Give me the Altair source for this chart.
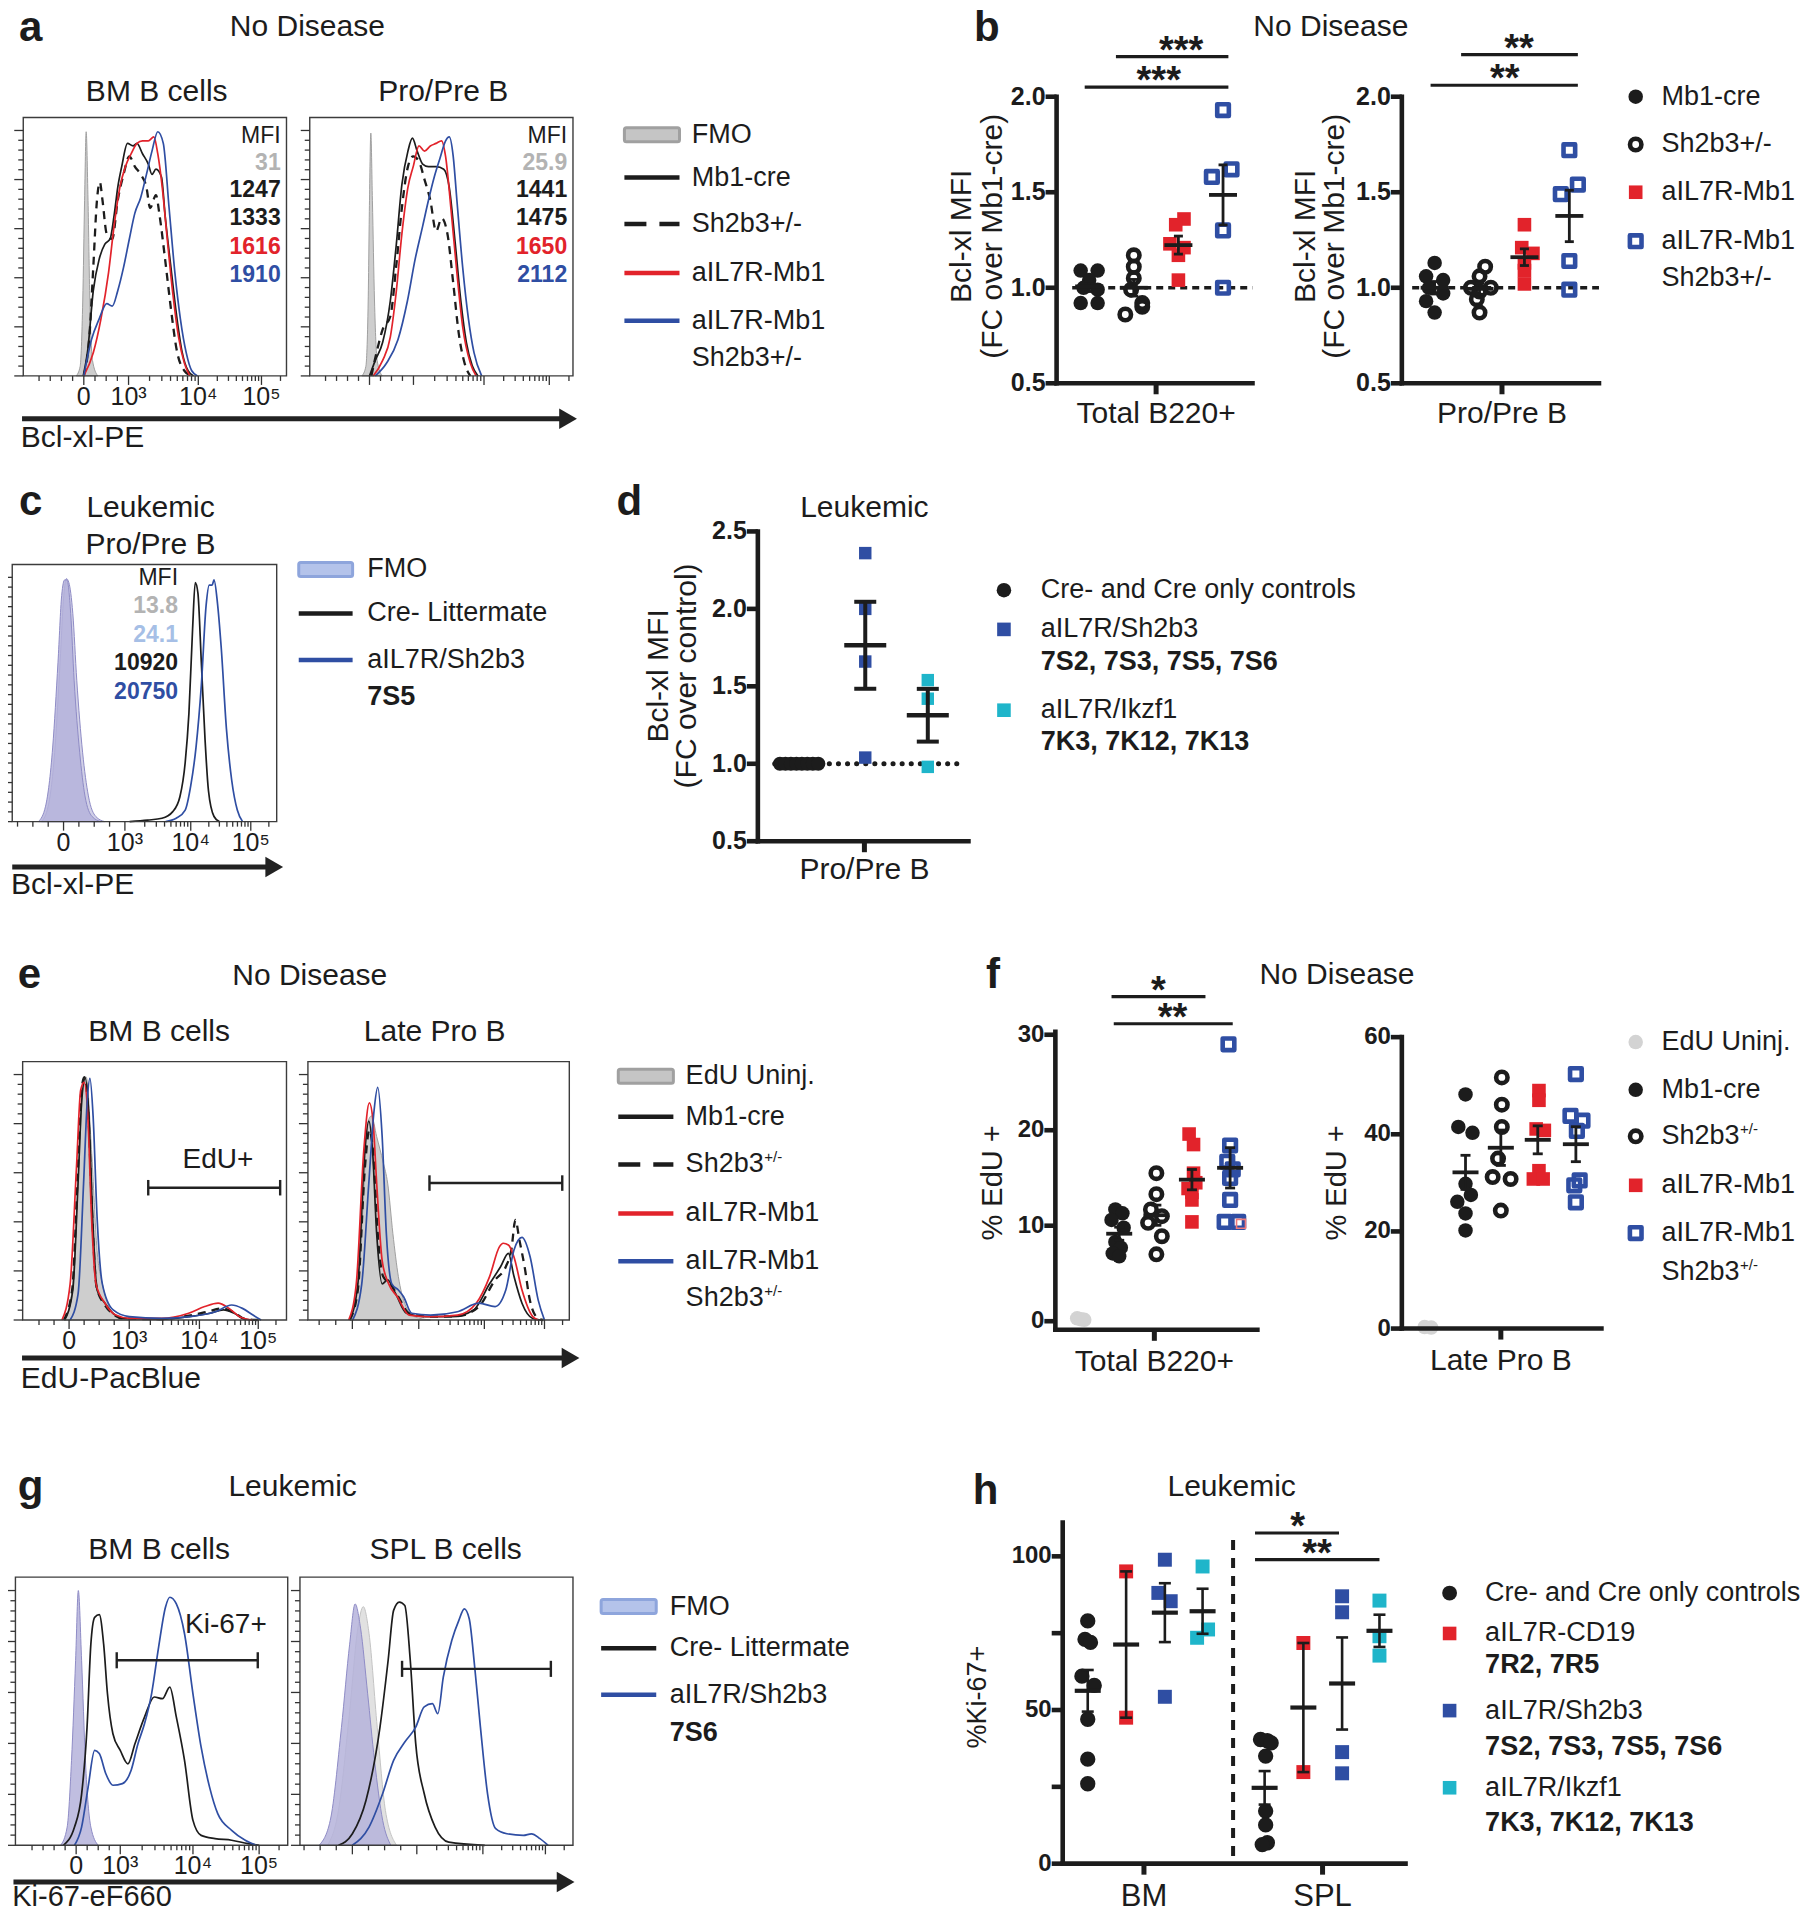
import math
import altair as alt
import numpy as np
import pandas as pd

# ============================ DATA ============================
# Flow histograms: (x, y) pairs, x and y in percent of the plot frame
A1_FMO = [(20.1,0),(21.6,3.6),(22.6,29),(23.3,68),(23.9,94.5),(24.6,68),(25.3,29),(26.3,6),(28.3,0)]
A1_MB1 = [(22.8,0),(24.5,10),(26.6,33),(28.8,45),(31.0,51),(33.0,53),(34.5,62),(35.9,73),(37.4,81),(39.6,90),(41.7,89),(43.2,90),(45.3,86),(47.5,82),(48.9,78),(50.4,80),(52.5,77),(53.9,62),(56.1,42),(58.3,23),(60.4,9),(62.6,2),(64.7,0)]
A1_SH2 = [(23.0,0),(25.2,16.5),(26.6,42),(28.0,68),(29.1,75),(30.1,68),(31.7,55),(33.8,53),(35.9,68),(38.1,78),(40.3,85),(42.4,81),(44.6,78),(46.8,73),(48.2,65),(50.4,70),(51.8,62),(53.9,45),(56.1,26),(58.3,10),(61.2,2),(64.0,0)]
A1_IL7 = [(23.0,0),(26.6,9),(29.5,22),(32.4,40),(34.5,58),(36.7,73),(38.8,81),(41.0,86),(43.2,90),(45.3,91),(47.5,91),(49.6,92.5),(51.1,86),(52.8,73),(54.7,53),(56.8,32),(59.0,15),(61.2,5),(63.3,0)]
A1_BOTH = [(23.0,0),(25.9,14),(28.8,22),(31.7,28),(33.8,27),(35.9,33),(38.1,42),(40.3,53),(42.4,63),(44.6,69),(46.8,78),(48.9,87),(51.1,94.5),(53.2,90),(55.4,65),(57.6,40),(59.7,22),(61.9,9),(64.0,2),(66.2,0)]

A2_FMO = [(19.8,0),(21.3,3.6),(22.2,29),(22.7,68),(23.2,94),(23.8,68),(24.6,29),(25.6,6),(27.5,0)]
A2_MB1 = [(22.7,0),(24.9,6),(27.7,13),(30.6,29),(32.8,50),(35.0,74),(37.3,87),(39.0,92),(40.8,87),(42.9,82),(45.1,81),(48.0,81),(50.9,80),(53.0,73),(55.2,52),(57.4,29),(59.5,13),(61.7,4),(63.9,0)]
A2_SH2 = [(23.4,0),(25.6,10),(27.7,18),(30.6,23),(32.8,42),(35.0,65),(37.3,81),(39.3,85),(41.5,83),(43.6,76),(45.8,68),(48.0,56),(50.1,61),(52.3,55),(54.5,36),(56.6,16.5),(58.8,5),(61.0,0)]
A2_IL7 = [(24.1,0),(27.7,6),(30.6,15),(32.8,32),(35.0,55),(37.3,73),(39.3,81),(41.5,89),(43.6,87),(45.8,89),(48.0,90),(50.1,91),(51.6,85),(53.8,63),(55.9,40),(58.1,19),(61.0,5),(63.2,0)]
A2_BOTH = [(24.9,0),(29.2,5),(33.5,14),(37.1,29),(40.0,45),(42.9,58),(45.1,68),(47.3,77),(49.4,84),(51.6,91),(53.0,92.5),(54.5,85),(55.9,68),(58.1,42),(60.3,22),(62.4,9),(65.3,0)]

C_FMO_A = [(9.9,0),(12.6,6),(15.3,29),(17.3,62),(18.7,88),(19.8,94),(20.7,94),(22.1,81),(23.4,55),(25.5,27),(27.5,10),(30.2,2),(33.6,0)]
C_FMO_B = [(11.0,0),(13.6,6),(16.2,29),(18.1,62),(19.5,88),(20.5,94.5),(21.4,93),(22.9,81),(24.4,55),(26.6,27),(28.8,10),(31.6,2),(35.0,0)]
C_CRE = [(44.4,0),(51.2,0.6),(56.6,1.3),(60.7,3.9),(63.4,9.7),(65.4,23),(66.8,42),(68.2,75),(69.2,93),(70.2,89),(71.5,62),(72.9,32),(74.2,12),(76.3,2),(78.3,0)]
C_7S5 = [(58.0,0),(62.0,1.3),(65.4,4.5),(67.5,14),(69.5,29),(71.5,53),(73.3,84),(74.5,92),(75.6,92),(76.3,94),(77.6,85),(79.0,68),(81.0,36),(83.0,16),(85.1,4.5),(87.1,0)]

E1_UNINJ = [(15.9,0),(19.0,14),(21.0,53),(23.1,92),(24.1,94),(26.1,66),(28.2,27),(30.2,14),(32.2,6.5),(35.3,1.3),(40.4,0)]
E1_MB1 = [(15.9,0),(19.0,11.6),(21.0,53),(22.4,85),(23.7,93.5),(25.1,79),(26.5,40),(28.2,11.6),(31.2,6.5),(34.3,2.6),(38.4,0.6),(52.7,0.3),(62.9,1.3),(71.0,2.6),(76.1,3.9),(80.2,2.6),(84.3,0.3),(89.4,0)]
E1_SH2 = [(15.6,0),(18.8,12),(20.8,55),(22.2,88),(23.4,94),(24.9,80),(26.3,42),(28.0,13),(31.0,6),(34.0,2.5),(38.0,0.6),(52.0,0.3),(62.0,1.5),(70.0,3.2),(75.5,4.5),(80.0,3),(84.0,0.5),(89.0,0)]
E1_IL7 = [(14.9,0),(18.0,14),(20.4,59),(22.0,89),(23.3,92),(24.7,79),(26.1,40),(27.8,14),(31.2,6.5),(35.3,1.9),(40.4,0.6),(52.7,0.6),(62.9,2.6),(69.0,5.2),(74.1,6.5),(78.2,4.5),(82.2,1.3),(87.3,0)]
E1_BOTH = [(18.0,0),(21.0,10),(23.1,53),(24.5,85),(25.5,93.5),(26.7,79),(28.2,40),(30.2,14),(34.3,3.9),(40.4,1.3),(52.7,0.6),(64.9,1.5),(73.1,3.2),(79.2,5.8),(83.3,4.5),(87.3,1.9),(90.4,0)]

E2_UNINJ = [(16.0,0),(19.1,14),(21.2,46),(22.8,76),(24.3,79),(26.3,71),(28.8,61),(30.5,53),(32.5,33.5),(34.6,16.8),(37.0,6.5),(40.7,1.3),(46.9,0)]
E2_MB1 = [(16.0,0),(19.1,14),(21.8,66),(23.3,77),(24.7,66),(26.3,33.5),(28.4,14),(30.5,15.5),(33.5,10.3),(37.7,2.6),(44.9,1.3),(55.1,1.3),(63.4,3.9),(69.5,14),(73.7,20.6),(76.7,25.8),(78.8,17),(81.9,6.5),(86.0,0.6),(89.1,0)]
E2_SH2 = [(16.0,0),(19.1,11.6),(21.8,59),(23.5,73.5),(25.1,63),(26.7,33.5),(28.8,16.8),(31.5,14),(34.6,9),(38.7,2.6),(46.9,1.3),(57.2,1.5),(65.4,5.2),(71.6,15.5),(75.7,20.6),(77.8,27),(79.4,38.7),(80.9,31),(82.9,20.6),(84.9,7.7),(88.1,0.6),(90.1,0)]
E2_IL7 = [(15.6,0),(18.5,14),(21.4,66),(23.5,84),(24.9,77),(26.3,53),(28.4,23),(30.9,14),(34.2,9),(38.7,1.9),(46.9,1.3),(57.2,1.9),(64.4,6.5),(69.5,16.8),(73.3,28.4),(74.7,29.7),(76.7,29),(78.8,24.5),(81.9,11.6),(86.0,1.3),(88.1,0)]
E2_BOTH = [(17.1,0),(20.6,14),(23.3,53),(25.3,81),(26.7,90),(28.4,71),(30.0,33.5),(32.1,14),(34.6,11.6),(36.6,9),(39.7,2.6),(46.9,1.9),(57.2,3.2),(65.4,6.5),(71.6,5.2),(75.7,11.6),(78.8,27),(81.9,32),(85.0,24.5),(88.1,7.7),(90.5,0)]

G1_FMO = [(16.6,0),(19.0,6.8),(20.6,31.7),(22.1,69),(23.1,95),(24.3,69),(25.7,31.7),(27.7,6.8),(30.4,0)]
G1_CRE = [(17.6,0),(21.7,6.8),(24.3,19),(26.3,44),(27.7,75),(29.1,85),(30.8,86),(32.4,75),(33.8,56.5),(35.8,41.6),(38.5,35.4),(41.3,30.4),(43.9,37.9),(47.4,47.8),(51.0,55.3),(54.0,54.7),(56.7,59),(59.1,47.8),(62.1,31.7),(65.2,9.3),(68.2,3.7),(73.3,2.5),(79.4,1.9),(85.4,0.6),(89.5,0)]
G1_7S6 = [(21.7,0),(24.3,6.8),(26.7,21.7),(29.1,35.4),(30.8,34.2),(33.2,26.7),(35.8,22.4),(39.3,23),(42.5,28),(45.0,37.9),(47.4,45.3),(50.0,56.5),(52.6,74),(55.1,88.8),(56.7,92.5),(59.1,90),(62.1,78.9),(65.2,56.5),(68.2,36.6),(71.3,21.7),(74.3,11.8),(79.4,5.6),(84.4,1.9),(88.5,0)]

G2_FMO_A = [(7.0,0),(11.1,9.3),(15.2,44),(18.2,75),(20.2,90),(22.2,81),(24.8,56.5),(27.3,31.7),(30.3,9.3),(33.3,0)]
G2_FMO_B = [(10.1,0),(14.1,13),(18.2,50),(21.2,81),(23.2,89),(25.3,79),(28.3,44),(31.3,13),(35.4,0)]
G2_CRE = [(14.1,0),(19.2,4.3),(24.2,16.8),(29.3,44),(32.3,69),(34.3,87.6),(36.4,90.7),(38.4,89.4),(40.4,69),(42.4,37.9),(45.5,19.3),(49.5,6.8),(54.5,1.2),(67.7,0)]
G2_7S6 = [(19.2,0),(25.3,6.8),(30.3,19.3),(34.3,31.7),(38.4,38.5),(42.4,44.1),(45.5,51.6),(48.5,52.8),(50.5,49.1),(52.5,62.7),(55.6,76.4),(58.2,83.9),(60.2,88.2),(62.0,84.5),(64.0,66.5),(66.1,44.1),(68.7,19.3),(71.7,6.2),(75.8,4.3),(81.8,3.7),(84.8,4.3),(87.9,2.5),(90.9,0)]

MFI_A1 = ["MFI", "31", "1247", "1333", "1616", "1910"]
MFI_A2 = ["MFI", "25.9", "1441", "1475", "1650", "2112"]
MFI_C = ["MFI", "13.8", "24.1", "10920", "20750"]
FLOW_TICK_LABELS = ["0", "10³", "10⁴", "10⁵"]

# Panel b: Bcl-xl MFI (FC over Mb1-cre); values and horizontal scatter offsets
B1_VALUES = {"mb1": [1.09, 1.09, 1.04, 1.00, 0.99, 0.92, 0.92],
             "sh2": [1.17, 1.11, 1.05, 0.99, 0.92, 0.86, 0.90],
             "il7": [1.36, 1.33, 1.23, 1.21, 1.17, 1.04],
             "both": [1.93, 1.62, 1.58, 1.30, 1.00]}
B1_JITTER = {"mb1": [-0.19, 0.19, 0, -0.125, 0.19, -0.19, 0.19],
             "sh2": [0, 0, 0, -0.06, 0.19, -0.19, 0.19],
             "il7": [0.125, -0.06, -0.19, 0.125, 0, 0],
             "both": [0, 0.19, -0.25, 0, 0]}
B2_VALUES = {"mb1": [1.13, 1.06, 1.04, 1.00, 0.97, 0.93, 0.87],
             "sh2": [1.11, 1.06, 1.00, 1.00, 0.98, 0.94, 0.87],
             "il7": [1.33, 1.21, 1.18, 1.13, 1.09, 1.02],
             "both": [1.72, 1.54, 1.49, 1.14, 0.99]}
B2_JITTER = {"mb1": [0, -0.19, 0.19, -0.125, 0.19, -0.19, 0],
             "sh2": [0.125, 0, -0.19, 0.25, 0, -0.06, 0],
             "il7": [0, -0.06, 0.19, 0, 0, 0],
             "both": [0, 0.19, -0.19, 0, 0]}
B_TICKS = [0.5, 1.0, 1.5, 2.0]
B_TICK_LABELS = ["0.5", "1.0", "1.5", "2.0"]

# Panel d
D_CTRL = [1.0, 1.0, 1.0, 1.0, 1.0, 1.0, 1.0, 1.0]
D_CTRL_X = [0.105, 0.131, 0.157, 0.183, 0.209, 0.235, 0.261, 0.287]
D_SH2B3 = [2.36, 2.00, 1.66, 1.04]
D_IKZF1 = [1.54, 1.42, 0.98]
D_TICKS = [0.5, 1.0, 1.5, 2.0, 2.5]
D_TICK_LABELS = ["0.5", "1.0", "1.5", "2.0", "2.5"]

# Panel f (% EdU+), x positions as fraction of the axis
F1_UNINJ = [0.3, 0.15, 0.2]
F1_UNINJ_X = [0.108, 0.143, 0.127]
F1_MB1 = [11.7, 11.3, 10.6, 9.8, 8.3, 7.7, 7.1, 6.8]
F1_MB1_X = [0.297, 0.332, 0.278, 0.338, 0.297, 0.324, 0.284, 0.316]
F1_SH2 = [15.5, 13.3, 11.7, 11.0, 10.3, 8.9, 7.0]
F1_SH2_X = [0.5, 0.5, 0.473, 0.527, 0.459, 0.527, 0.5]
F1_IL7 = [19.6, 18.5, 15.5, 14.5, 13.9, 13.5, 12.7, 10.4]
F1_IL7_X = [0.662, 0.684, 0.684, 0.695, 0.657, 0.676, 0.676, 0.676]
F1_BOTH = [29.0, 18.4, 16.7, 15.9, 15.0, 12.7, 10.4, 10.4]
F1_BOTH_X = [0.857, 0.865, 0.851, 0.878, 0.865, 0.865, 0.838, 0.905]
F1_STRAY = [10.2]
F1_STRAY_X = [0.919]
F1_TICKS = [0, 10, 20, 30]

F2_UNINJ = [0.3, 0.2]
F2_UNINJ_X = [0.114, 0.147]
F2_MB1 = [48.2, 41.5, 40.3, 29.8, 27.5, 26.1, 23.7, 20.2]
F2_MB1_X = [0.319, 0.283, 0.354, 0.319, 0.346, 0.278, 0.319, 0.319]
F2_SH2 = [51.7, 46.1, 41.5, 35.0, 31.2, 30.8, 24.3]
F2_SH2_X = [0.501, 0.501, 0.501, 0.482, 0.455, 0.545, 0.496]
F2_IL7 = [49.0, 47.0, 41.1, 40.8, 32.5, 30.8, 30.8]
F2_IL7_X = [0.687, 0.687, 0.673, 0.714, 0.687, 0.659, 0.708]
F2_BOTH = [52.4, 43.8, 42.8, 40.7, 30.5, 29.5, 26.0]
F2_BOTH_X = [0.872, 0.845, 0.905, 0.877, 0.891, 0.864, 0.872]
F2_TICKS = [0, 20, 40, 60]

# Panel h (% Ki-67+)
H_BM_CTRL = [79, 73, 72, 61, 58, 47, 34, 26]
H_BM_CTRL_X = [0.073, 0.065, 0.081, 0.056, 0.092, 0.073, 0.073, 0.073]
H_BM_CD19 = [95.1, 47.5]
H_BM_SH2 = [98.9, 88.1, 85.4, 54.3]
H_BM_SH2_X = [0.298, 0.279, 0.315, 0.298]
H_BM_IKZF = [96.7, 76.2, 73.5]
H_BM_IKZF_X = [0.408, 0.424, 0.392]
H_SPL_CTRL = [40.4, 40.0, 39.3, 35.0, 17.1, 12.6, 6.8, 6.2]
H_SPL_CTRL_X = [0.577, 0.597, 0.608, 0.592, 0.592, 0.592, 0.597, 0.582]
H_SPL_CD19 = [71.8, 29.8]
H_SPL_SH2 = [87.0, 81.8, 36.3, 29.4]
H_SPL_IKZF = [85.6, 74.0, 67.7]
H_TICKS = [0, 25, 50, 75, 100]
H_TICK_LABELS = ["0", "", "50", "", "100"]

# ============================ STYLE / LAYOUT ============================
W, H = 1796, 1904
KX, KY = 1812 / 1480, 1920 / 1568
FONT = "Liberation Sans"
BLACK = "#1c1c1c"
RED = "#e2232b"
BLUE = "#2f4ea3"
CYAN = "#1fb5ca"
GREY_FILL = "#c5c5c5"
GREY_EDGE = "#a0a0a0"
LAV_FILL = "#b5b3da"
LAV_FILL2 = "#c9c8e3"
LAV_EDGE = "#8f8cc6"
LGREY = "#d3d3d3"
MFI_GREY = "#b3b3b3"
MFI_LBLUE = "#a6bfe6"
ONE = pd.DataFrame({"k": [0]})

# marker styles: (kind, colour, size)
S_FC = ("fcircle", BLACK, 210)
S_OC = ("ocircle", BLACK, 130)
S_FS = ("fsquare", RED, 185)
S_OS = ("osquare", BLUE, 135)


def X(v):
    return round(v * KX - 8, 2)


def Y(v):
    return round(v * KY - 8, 2)


def txt(s, x, y, size, weight="normal", align="center", angle=0, color=BLACK, baseline="middle"):
    props = dict(text=s, font=FONT, fontSize=size, fontWeight=weight, align=align,
                 baseline=baseline, color=color)
    if angle:
        props["angle"] = angle
    return alt.Chart(ONE).mark_text(**props).encode(x=alt.value(X(x)), y=alt.value(Y(y)))


EM = {"S": .667, "h": .556, "2": .556, "b": .556, "3": .556}


def label_parts(label, xt, y, bold=False, sup=False, size=27):
    out = [txt(label, xt, y, size, weight="bold" if bold else "normal", align="left")]
    if sup:
        w = sum(EM.get(ch, .556) for ch in label) * size / KX
        out.append(txt("+/-", xt + w + 0.5, y - 6, 15, align="left"))
    return out


def arrow(x0, x1, y):
    return [
        alt.Chart(ONE).mark_rule(color="#222222", strokeWidth=5).encode(
            x=alt.value(X(x0)), x2=alt.value(X(x1 - 8)), y=alt.value(Y(y))),
        alt.Chart(ONE).mark_point(shape="triangle-right", filled=True, size=420, color="#222222",
                                  opacity=1).encode(x=alt.value(X(x1 - 6)), y=alt.value(Y(y))),
    ]


def x_ticks(m):
    m0, m3, m4, m5 = m
    st = (m3 - m0) / 4.0
    vals = [m0 + j * st for j in range(-4, 4)]
    for a, b in ((m3, m4), (m4, m5)):
        vals += [a + (b - a) * math.log10(k) for k in range(1, 10)]
    vals += [m5 + (m5 - m4) * math.log10(k) for k in range(1, 10)]
    return sorted({round(v, 2) for v in vals if 1 <= v <= 99})


Y_TICKS = [round(i * 3.8, 2) for i in range(26)]
Y_MAJOR = [0, 19, 38, 57, 76, 95]


def pts_df(pts):
    return pd.DataFrame(pts, columns=["x", "y"])


def marker_props(kind, color, size):
    shape = "circle" if kind.endswith("circle") else "square"
    props = dict(shape=shape, size=size, opacity=1)
    if kind.startswith("f"):
        props.update(filled=True, color=color)
    elif kind.startswith("t"):
        props.update(filled=False, color=color, strokeWidth=1.6)
    else:
        props.update(filled=False, color=color, strokeWidth=4.6, strokeJoin="round")
    return props


def hist_panel(box, majors, labels, fills=(), dashed=(), solid=(), mfi=None, gate=None):
    l, r, t, b = box
    xs = alt.Scale(domain=[0, 100], range=[X(l), X(r)], nice=False, zero=False)
    ys = alt.Scale(domain=[0, 100], range=[Y(b), Y(t)], nice=False, zero=False)
    xq = alt.X("x:Q", scale=xs, axis=None)
    yq = alt.Y("y:Q", scale=ys, axis=None, stack=None)
    ls = []
    for pts, fc, ec in fills:
        ls.append(alt.Chart(pts_df(pts)).mark_area(interpolate="monotone", fill=fc, fillOpacity=0.85,
                                                   stroke=ec, strokeWidth=1).encode(x=xq, y=yq))
    for pts, c in dashed:
        ls.append(alt.Chart(pts_df(pts)).mark_line(interpolate="monotone", color=c, strokeWidth=2.3,
                                                   strokeDash=[8, 6]).encode(x=xq, y=yq))
    for pts, c in solid:
        ls.append(alt.Chart(pts_df(pts)).mark_line(interpolate="monotone", color=c,
                                                   strokeWidth=1.7).encode(x=xq, y=yq))
    fr = pd.DataFrame({"x0": [0], "x1": [100], "y0": [0], "y1": [100]})
    ls.append(alt.Chart(fr).mark_rect(fill="transparent", stroke="#3c3c3c", strokeWidth=1.4).encode(
        x=alt.X("x0:Q", scale=xs, axis=None), x2="x1:Q",
        y=alt.Y("y0:Q", scale=ys, axis=None), y2="y1:Q"))
    majl = list(majors)
    minor = [v for v in x_ticks(majors) if v not in majl]
    for vals, sz in ((minor, 5), (majl, 9)):
        d = pd.DataFrame({"x": vals})
        d["y"] = 0.0
        ls.append(alt.Chart(d).mark_tick(orient="vertical", size=sz, thickness=1.3, yOffset=sz / 2,
                                         color="#333333", opacity=1).encode(x=xq, y=yq))
    for vals, sz in (([v for v in Y_TICKS if v not in Y_MAJOR], 5), (Y_MAJOR, 9)):
        d = pd.DataFrame({"y": vals})
        d["x"] = 0.0
        ls.append(alt.Chart(d).mark_tick(orient="horizontal", size=sz, thickness=1.3, xOffset=-sz / 2,
                                         color="#333333", opacity=1).encode(x=xq, y=yq))
    if labels:
        d = pd.DataFrame({"x": majl, "t": FLOW_TICK_LABELS})
        d["y"] = 0.0
        ls.append(alt.Chart(d).mark_text(font=FONT, fontSize=25, color=BLACK, baseline="middle", dy=21).encode(
            x=xq, y=yq, text="t:N"))
    if mfi:
        xpos, texts, yv, cols = mfi
        d = pd.DataFrame({"y": yv, "t": texts, "c": cols})
        d["x"] = xpos
        for part, wt in ((d.iloc[:1], "normal"), (d.iloc[1:], "bold")):
            ls.append(alt.Chart(part).mark_text(align="right", baseline="middle", font=FONT, fontSize=23,
                                                fontWeight=wt).encode(
                x=xq, y=yq, text="t:N", color=alt.Color("c:N", scale=None)))
    if gate:
        gy, gx0, gx1, glab, glx, gly = gate
        gd = pd.DataFrame({"x0": [gx0], "x1": [gx1], "y": [gy], "ya": [gy - 3], "yb": [gy + 3]})
        ls.append(alt.Chart(gd).mark_rule(color="#222222", strokeWidth=2.4).encode(
            x=alt.X("x0:Q", scale=xs, axis=None), x2="x1:Q", y=alt.Y("y:Q", scale=ys, axis=None)))
        for col in ("x0", "x1"):
            ls.append(alt.Chart(gd).mark_rule(color="#222222", strokeWidth=2.4).encode(
                x=alt.X(col + ":Q", scale=xs, axis=None), y=alt.Y("ya:Q", scale=ys, axis=None), y2="yb:Q"))
        if glab:
            ld = pd.DataFrame({"x": [glx], "y": [gly], "t": [glab]})
            ls.append(alt.Chart(ld).mark_text(font=FONT, fontSize=28, color=BLACK).encode(
                x=xq, y=yq, text="t:N"))
    return alt.layer(*ls)


def dot_panel(xdom, xr, ydom, yr, yvals, ylabels, xvals, xlabels, xlab_dy, groups, ref=None, sig=(),
              vline=None, mean_len=28, cap_len=9, mean_w=3.8, err_w=2.8, ylab_size=25, xlab_size=30):
    xs = alt.Scale(domain=xdom, range=[X(xr[0]), X(xr[1])], nice=False, zero=False)
    ys = alt.Scale(domain=ydom, range=[Y(yr[0]), Y(yr[1])], nice=False, zero=False)
    XQ = lambda f: alt.X(f, type="quantitative", scale=xs, axis=None)
    YQ = lambda f: alt.Y(f, type="quantitative", scale=ys, axis=None)
    ls = []
    if ref:
        x0, x1, yv, dash, wdt, cap = ref
        rd = pd.DataFrame({"x0": [x0], "x1": [x1], "y": [yv]})
        ls.append(alt.Chart(rd).mark_rule(color=BLACK, strokeWidth=wdt, strokeDash=dash, strokeCap=cap).encode(
            x=XQ("x0"), x2="x1:Q", y=YQ("y")))
    if vline:
        vx, vy0, vy1 = vline
        vd = pd.DataFrame({"x": [vx], "y0": [vy0], "y1": [vy1]})
        ls.append(alt.Chart(vd).mark_rule(color=BLACK, strokeWidth=4, strokeDash=[10, 8]).encode(
            x=XQ("x"), y=YQ("y0"), y2="y1:Q"))
    stats = []
    for g in groups:
        v = g["v"]
        xl = g["x"] if isinstance(g["x"], list) else [g["x"]] * len(v)
        d = pd.DataFrame({"x": xl, "v": v})
        kind, col, size = g["style"]
        ls.append(alt.Chart(d).mark_point(**marker_props(kind, col, size)).encode(x=XQ("x"), y=YQ("v")))
        if g.get("stat", True):
            a = np.array(v, dtype=float)
            m = a.mean()
            se = a.std(ddof=1) / np.sqrt(len(a))
            stats.append({"c": g["c"], "m": m, "lo": m - se, "hi": m + se})
    if stats:
        sd = pd.DataFrame(stats)
        ls.append(alt.Chart(sd).mark_rule(color=BLACK, strokeWidth=err_w).encode(
            x=XQ("c"), y=YQ("lo"), y2="hi:Q"))
        ls.append(alt.Chart(sd).mark_tick(orient="horizontal", color=BLACK, size=mean_len, thickness=mean_w,
                                          opacity=1).encode(x=XQ("c"), y=YQ("m")))
        for col in ("lo", "hi"):
            ls.append(alt.Chart(sd).mark_tick(orient="horizontal", color=BLACK, size=cap_len, thickness=err_w,
                                              opacity=1).encode(x=XQ("c"), y=YQ(col)))
    for x0, x1, yl, lab, xt in sig:
        sdf = pd.DataFrame({"x0": [x0], "x1": [x1], "y": [yl], "xt": [xt], "t": [lab]})
        ls.append(alt.Chart(sdf).mark_rule(color=BLACK, strokeWidth=3.2).encode(x=XQ("x0"), x2="x1:Q", y=YQ("y")))
        ls.append(alt.Chart(sdf).mark_text(font=FONT, fontSize=38, fontWeight="bold", color=BLACK,
                                           baseline="alphabetic", dy=6).encode(x=XQ("xt"), y=YQ("y"), text="t:N"))
    ax = pd.DataFrame({"x0": [xdom[0]], "x1": [xdom[1]], "y0": [ydom[0]], "y1": [ydom[1]]})
    ls.append(alt.Chart(ax).mark_rule(color=BLACK, strokeWidth=4.6, strokeCap="square").encode(
        x=XQ("x0"), y=YQ("y0"), y2="y1:Q"))
    ls.append(alt.Chart(ax).mark_rule(color=BLACK, strokeWidth=4.6, strokeCap="square").encode(
        x=XQ("x0"), x2="x1:Q", y=YQ("y0")))
    yt = pd.DataFrame({"y": yvals, "t": ylabels})
    yt["x"] = xdom[0]
    ls.append(alt.Chart(yt).mark_tick(orient="horizontal", size=11, thickness=4.6, xOffset=-5.5,
                                      color=BLACK, opacity=1).encode(x=XQ("x"), y=YQ("y")))
    ls.append(alt.Chart(yt).mark_text(align="right", baseline="middle", dx=-11, font=FONT, fontSize=ylab_size,
                                      fontWeight="bold", color=BLACK).encode(x=XQ("x"), y=YQ("y"), text="t:N"))
    xt = pd.DataFrame({"x": xvals, "t": xlabels})
    xt["y"] = ydom[0]
    ls.append(alt.Chart(xt).mark_tick(orient="vertical", size=11, thickness=5, yOffset=5.5,
                                      color=BLACK, opacity=1).encode(x=XQ("x"), y=YQ("y")))
    ls.append(alt.Chart(xt).mark_text(baseline="middle", dy=xlab_dy, font=FONT, fontSize=xlab_size,
                                      color=BLACK).encode(x=XQ("x"), y=YQ("y"), text="t:N"))
    return alt.layer(*ls)


def leg_line(x0, x1, xt, rows):
    out = []
    for y, label, kind, col, bold, sup in rows:
        if kind == "line":
            out.append(alt.Chart(ONE).mark_rule(color=col, strokeWidth=4.5).encode(
                x=alt.value(X(x0)), x2=alt.value(X(x1)), y=alt.value(Y(y))))
        elif kind == "dash":
            out.append(alt.Chart(ONE).mark_rule(color=col, strokeWidth=4.5, strokeDash=[22, 13]).encode(
                x=alt.value(X(x0)), x2=alt.value(X(x1)), y=alt.value(Y(y))))
        elif kind == "rect":
            fc, ec = col
            out.append(alt.Chart(ONE).mark_rect(fill=fc, stroke=ec, strokeWidth=3, cornerRadius=2).encode(
                x=alt.value(X(x0)), x2=alt.value(X(x1)), y=alt.value(Y(y) - 7), y2=alt.value(Y(y) + 7)))
        out += label_parts(label, xt, y, bold, sup)
    return out


def leg_pt(xsym, xt, rows):
    out = []
    for y, label, style, bold, sup in rows:
        if style:
            out.append(alt.Chart(ONE).mark_point(**marker_props(*style)).encode(
                x=alt.value(X(xsym)), y=alt.value(Y(y))))
        out += label_parts(label, xt, y, bold, sup)
    return out


# ============================ BUILD ============================
L = []

# ---- panel a
MFI_Y6 = [93, 82.6, 72, 61, 50, 39]
MFI_COL6 = [BLACK, MFI_GREY, BLACK, BLACK, RED, BLUE]
L.append(hist_panel((19, 234, 96, 307), (23, 40, 66.5, 90.5), True,
                    fills=[(A1_FMO, GREY_FILL, GREY_EDGE)], dashed=[(A1_SH2, BLACK)],
                    solid=[(A1_MB1, BLACK), (A1_IL7, RED), (A1_BOTH, BLUE)],
                    mfi=(97.8, MFI_A1, MFI_Y6, MFI_COL6)))
L.append(hist_panel((253, 468, 96, 307), (22.7, 39.4, 66.2, 91), False,
                    fills=[(A2_FMO, GREY_FILL, GREY_EDGE)], dashed=[(A2_SH2, BLACK)],
                    solid=[(A2_MB1, BLACK), (A2_IL7, RED), (A2_BOTH, BLUE)],
                    mfi=(97.8, MFI_A2, MFI_Y6, MFI_COL6)))
L += [txt("a", 25, 23, 42, "bold"), txt("No Disease", 251, 22, 30),
      txt("BM B cells", 128, 75, 30), txt("Pro/Pre B", 362, 75, 30),
      txt("Bcl-xl-PE", 17, 358, 30, align="left")]
L += arrow(18, 470, 342)
L += leg_line(510, 555, 565, [
    (110, "FMO", "rect", (GREY_FILL, GREY_EDGE), False, False),
    (145, "Mb1-cre", "line", BLACK, False, False),
    (183, "Sh2b3+/-", "dash", BLACK, False, False),
    (223, "aIL7R-Mb1", "line", RED, False, False),
    (262, "aIL7R-Mb1", "line", BLUE, False, False),
    (292, "Sh2b3+/-", None, None, False, False)])

# ---- panel b
STY4 = [S_FC, S_OC, S_FS, S_OS]


def b_groups(vals, jit):
    out = []
    for i, k in enumerate(["mb1", "sh2", "il7", "both"]):
        out.append(dict(v=vals[k], x=[i + 1 + j for j in jit[k]], c=i + 1, style=STY4[i]))
    return out


L.append(dot_panel([0.27, 4.66], (863, 1023), [0.5, 2.0], (313, 79), B_TICKS, B_TICK_LABELS,
                   [2.5], ["Total B220+"], 31,
                   b_groups(B1_VALUES, B1_JITTER), ref=(0.62, 4.66, 1.0, [7, 5], 3.3, "butt"),
                   sig=[(0.9, 4.12, 2.05, "***", 2.56), (1.6, 4.12, 2.21, "***", 3.06)]))
L.append(dot_panel([0.27, 4.66], (1145, 1306), [0.5, 2.0], (313, 79), B_TICKS, B_TICK_LABELS,
                   [2.5], ["Pro/Pre B"], 31,
                   b_groups(B2_VALUES, B2_JITTER), ref=(0.5, 4.66, 1.0, [7, 5], 3.3, "butt"),
                   sig=[(0.91, 4.19, 2.06, "**", 2.56), (1.59, 4.19, 2.22, "**", 2.88)]))
L += [txt("b", 806, 23, 42, "bold"), txt("No Disease", 1087, 22, 30),
      txt("Bcl-xl  MFI", 786, 193, 30, angle=270), txt("(FC over Mb1-cre)", 811, 193, 30, angle=270),
      txt("Bcl-xl  MFI", 1067, 193, 30, angle=270), txt("(FC over Mb1-cre)", 1090, 193, 30, angle=270)]
L += leg_pt(1336, 1357, [
    (79, "Mb1-cre", S_FC, False, False),
    (118, "Sh2b3+/-", S_OC, False, False),
    (157, "aIL7R-Mb1", S_FS, False, False),
    (197, "aIL7R-Mb1", S_OS, False, False),
    (227, "Sh2b3+/-", None, False, False)])

# ---- panel c
L.append(hist_panel((10, 226, 461, 671), (19.4, 42.6, 67.5, 90.2), True,
                    fills=[(C_FMO_B, LAV_FILL2, LAV_EDGE), (C_FMO_A, LAV_FILL, LAV_EDGE)],
                    solid=[(C_CRE, BLACK), (C_7S5, BLUE)],
                    mfi=(62.7, MFI_C, [94.8, 83.8, 72.7, 61.7, 50.6],
                         [BLACK, MFI_GREY, MFI_LBLUE, BLACK, BLUE])))
L += [txt("c", 25, 410, 42, "bold"), txt("Leukemic", 123, 415, 30), txt("Pro/Pre B", 123, 445, 30),
      txt("Bcl-xl-PE", 9, 723, 30, align="left")]
L += arrow(10, 230, 708)
L += leg_line(244, 288, 300, [
    (465, "FMO", "rect", ("#b4c3ea", "#8ea5dc"), False, False),
    (501, "Cre- Littermate", "line", BLACK, False, False),
    (539, "aIL7R/Sh2b3", "line", BLUE, False, False),
    (569, "7S5", None, None, True, False)])

# ---- panel d
L.append(dot_panel([0, 1], (619, 791), [0.5, 2.5], (687, 434), D_TICKS, D_TICK_LABELS,
                   [0.506], ["Pro/Pre B"], 29,
                   [dict(v=D_CTRL, x=D_CTRL_X, c=0.2, style=("fcircle", BLACK, 200), stat=False),
                    dict(v=D_SH2B3, x=0.51, c=0.51, style=("fsquare", BLUE, 155)),
                    dict(v=D_IKZF1, x=0.807, c=0.807, style=("fsquare", CYAN, 155))],
                   ref=(0.08, 0.965, 1.0, [0.1, 9], 5, "round"), mean_len=42, cap_len=22, mean_w=4.5, err_w=4))
L += [txt("d", 514, 410, 42, "bold"), txt("Leukemic", 706, 415, 30),
      txt("Bcl-xl  MFI", 538, 552, 30, angle=270), txt("(FC over control)", 561, 552, 30, angle=270)]
L += leg_pt(820, 850, [
    (482, "Cre- and Cre only controls", ("fcircle", BLACK, 210), False, False),
    (514, "aIL7R/Sh2b3", ("fsquare", BLUE, 185), False, False),
    (541, "7S2, 7S3, 7S5, 7S6", None, True, False),
    (580, "aIL7R/Ikzf1", ("fsquare", CYAN, 185), False, False),
    (606, "7K3, 7K12, 7K13", None, True, False)])

# ---- panel e
L.append(hist_panel((18.5, 234, 867, 1078), (17.6, 40.4, 67, 89.3), True,
                    fills=[(E1_UNINJ, GREY_FILL, GREY_EDGE)], dashed=[(E1_SH2, BLACK)],
                    solid=[(E1_MB1, BLACK), (E1_IL7, RED), (E1_BOTH, BLUE)],
                    gate=(51.2, 47.6, 97.6, "EdU+", 74, 62)))
L.append(hist_panel((251.5, 465, 867, 1078), (17, 42.4, 67.5, 90.5), False,
                    fills=[(E2_UNINJ, GREY_FILL, GREY_EDGE)], dashed=[(E2_SH2, BLACK)],
                    solid=[(E2_MB1, BLACK), (E2_IL7, RED), (E2_BOTH, BLUE)],
                    gate=(53, 46.5, 97.3, None, 0, 0)))
L += [txt("e", 24, 796, 42, "bold"), txt("No Disease", 253, 797, 30),
      txt("BM B cells", 130, 843, 30), txt("Late Pro B", 355, 843, 30),
      txt("EdU-PacBlue", 17, 1126, 30, align="left")]
L += arrow(18, 472, 1109)
L += leg_line(505, 550, 560, [
    (879, "EdU Uninj.", "rect", (GREY_FILL, GREY_EDGE), False, False),
    (912, "Mb1-cre", "line", BLACK, False, False),
    (951, "Sh2b3", "dash", BLACK, False, True),
    (991, "aIL7R-Mb1", "line", RED, False, False),
    (1030, "aIL7R-Mb1", "line", BLUE, False, False),
    (1060, "Sh2b3", None, None, False, True)])

# ---- panel f
S_GREY = ("fcircle", LGREY, 210)
L.append(dot_panel([0, 1], (862, 1027), [-0.9, 30.3], (1086, 842.7), F1_TICKS, [str(v) for v in F1_TICKS],
                   [0.49], ["Total B220+"], 32,
                   [dict(v=F1_UNINJ, x=F1_UNINJ_X, c=0.127, style=S_GREY, stat=False),
                    dict(v=F1_MB1, x=F1_MB1_X, c=0.316, style=S_FC),
                    dict(v=F1_SH2, x=F1_SH2_X, c=0.5, style=S_OC),
                    dict(v=F1_IL7, x=F1_IL7_X, c=0.676, style=S_FS),
                    dict(v=F1_BOTH, x=F1_BOTH_X, c=0.865, style=S_OS),
                    dict(v=F1_STRAY, x=F1_STRAY_X, c=0.919, style=("tsquare", "#ef7b7b", 80), stat=False)],
                   sig=[(0.278, 0.743, 34.0, "*", 0.51), (0.289, 0.878, 31.15, "**", 0.58)],
                   mean_len=26, cap_len=10, ylab_size=24))
L.append(dot_panel([0, 1], (1145, 1308), [0, 60], (1085, 847), F2_TICKS, [str(v) for v in F2_TICKS],
                   [0.496], ["Late Pro B"], 32,
                   [dict(v=F2_UNINJ, x=F2_UNINJ_X, c=0.128, style=S_GREY, stat=False),
                    dict(v=F2_MB1, x=F2_MB1_X, c=0.319, style=S_FC),
                    dict(v=F2_SH2, x=F2_SH2_X, c=0.496, style=S_OC),
                    dict(v=F2_IL7, x=F2_IL7_X, c=0.681, style=S_FS),
                    dict(v=F2_BOTH, x=F2_BOTH_X, c=0.872, style=S_OS)],
                   mean_len=26, cap_len=10, ylab_size=24))
L += [txt("f", 811, 796, 42, "bold"), txt("No Disease", 1092, 796, 30),
      txt("% EdU +", 811, 966, 29, angle=270), txt("% EdU +", 1092, 966, 29, angle=270)]
L += leg_pt(1336, 1357, [
    (851, "EdU Uninj.", S_GREY, False, False),
    (890, "Mb1-cre", S_FC, False, False),
    (928, "Sh2b3", S_OC, False, True),
    (968, "aIL7R-Mb1", S_FS, False, False),
    (1007, "aIL7R-Mb1", S_OS, False, False),
    (1039, "Sh2b3", None, False, True)])

# ---- panel g
L.append(hist_panel((12.6, 235, 1288, 1507), (22.3, 38.5, 65.2, 89.5), True,
                    fills=[(G1_FMO, LAV_FILL, LAV_EDGE)],
                    solid=[(G1_CRE, BLACK), (G1_7S6, BLUE)],
                    gate=(69, 37.2, 89, "Ki-67+", 77.3, 82)))
L.append(hist_panel((245, 468, 1288, 1507), (19.2, 42.8, 67, 89.9), False,
                    fills=[(G2_FMO_B, "#dcdcdc", "#c4c4c4"), (G2_FMO_A, LAV_FILL, LAV_EDGE)],
                    solid=[(G2_CRE, BLACK), (G2_7S6, BLUE)],
                    gate=(65.8, 37.4, 91.9, None, 0, 0)))
L += [txt("g", 25, 1214, 42, "bold"), txt("Leukemic", 239, 1214, 30),
      txt("BM B cells", 130, 1266, 30), txt("SPL B cells", 364, 1266, 30),
      txt("Ki-67-eF660", 10, 1549, 29, align="left")]
L += arrow(11, 468, 1537)
L += leg_line(491, 536, 547, [
    (1312, "FMO", "rect", ("#b4c3ea", "#8ea5dc"), False, False),
    (1346, "Cre- Littermate", "line", BLACK, False, False),
    (1384, "aIL7R/Sh2b3", "line", BLUE, False, False),
    (1415, "7S6", None, None, True, False)])

# ---- panel h
H_FC = ("fcircle", BLACK, 235)
H_SQ = 195
L.append(dot_panel([0, 1], (868, 1148), [0, 111], (1522, 1243.4), H_TICKS, H_TICK_LABELS,
                   [0.237, 0.758], ["BM", "SPL"], 33,
                   [dict(v=H_BM_CTRL, x=H_BM_CTRL_X, c=0.073, style=H_FC),
                    dict(v=H_BM_CD19, x=0.185, c=0.185, style=("fsquare", RED, H_SQ)),
                    dict(v=H_BM_SH2, x=H_BM_SH2_X, c=0.298, style=("fsquare", BLUE, H_SQ)),
                    dict(v=H_BM_IKZF, x=H_BM_IKZF_X, c=0.408, style=("fsquare", CYAN, H_SQ)),
                    dict(v=H_SPL_CTRL, x=H_SPL_CTRL_X, c=0.589, style=H_FC),
                    dict(v=H_SPL_CD19, x=0.702, c=0.702, style=("fsquare", RED, H_SQ)),
                    dict(v=H_SPL_SH2, x=0.815, c=0.815, style=("fsquare", BLUE, H_SQ)),
                    dict(v=H_SPL_IKZF, x=0.924, c=0.924, style=("fsquare", CYAN, H_SQ))],
                   vline=(0.497, 2.5, 106),
                   sig=[(0.561, 0.806, 107.6, "*", 0.685), (0.561, 0.924, 98.9, "**", 0.742)],
                   mean_len=26, cap_len=12, mean_w=4.2, err_w=2.6, ylab_size=24, xlab_size=31))
L += [txt("h", 805, 1218, 42, "bold"), txt("Leukemic", 1006, 1214, 30),
      txt("%Ki-67+", 799, 1386, 27, angle=270)]
L += leg_pt(1184, 1213, [
    (1301, "Cre- and Cre only controls", ("fcircle", BLACK, 220), False, False),
    (1334, "aIL7R-CD19", ("fsquare", RED, 185), False, False),
    (1360, "7R2, 7R5", None, True, False),
    (1397, "aIL7R/Sh2b3", ("fsquare", BLUE, 185), False, False),
    (1427, "7S2, 7S3, 7S5, 7S6", None, True, False),
    (1460, "aIL7R/Ikzf1", ("fsquare", CYAN, 185), False, False),
    (1489, "7K3, 7K12, 7K13", None, True, False)])

chart = alt.layer(*L).resolve_scale(x="independent", y="independent").properties(
    width=W, height=H, autosize=alt.AutoSizeParams(type="none"), padding=0, background="white"
).configure_view(stroke=None)

chart.save("out.html", embed_options={"renderer": "svg", "actions": False})
